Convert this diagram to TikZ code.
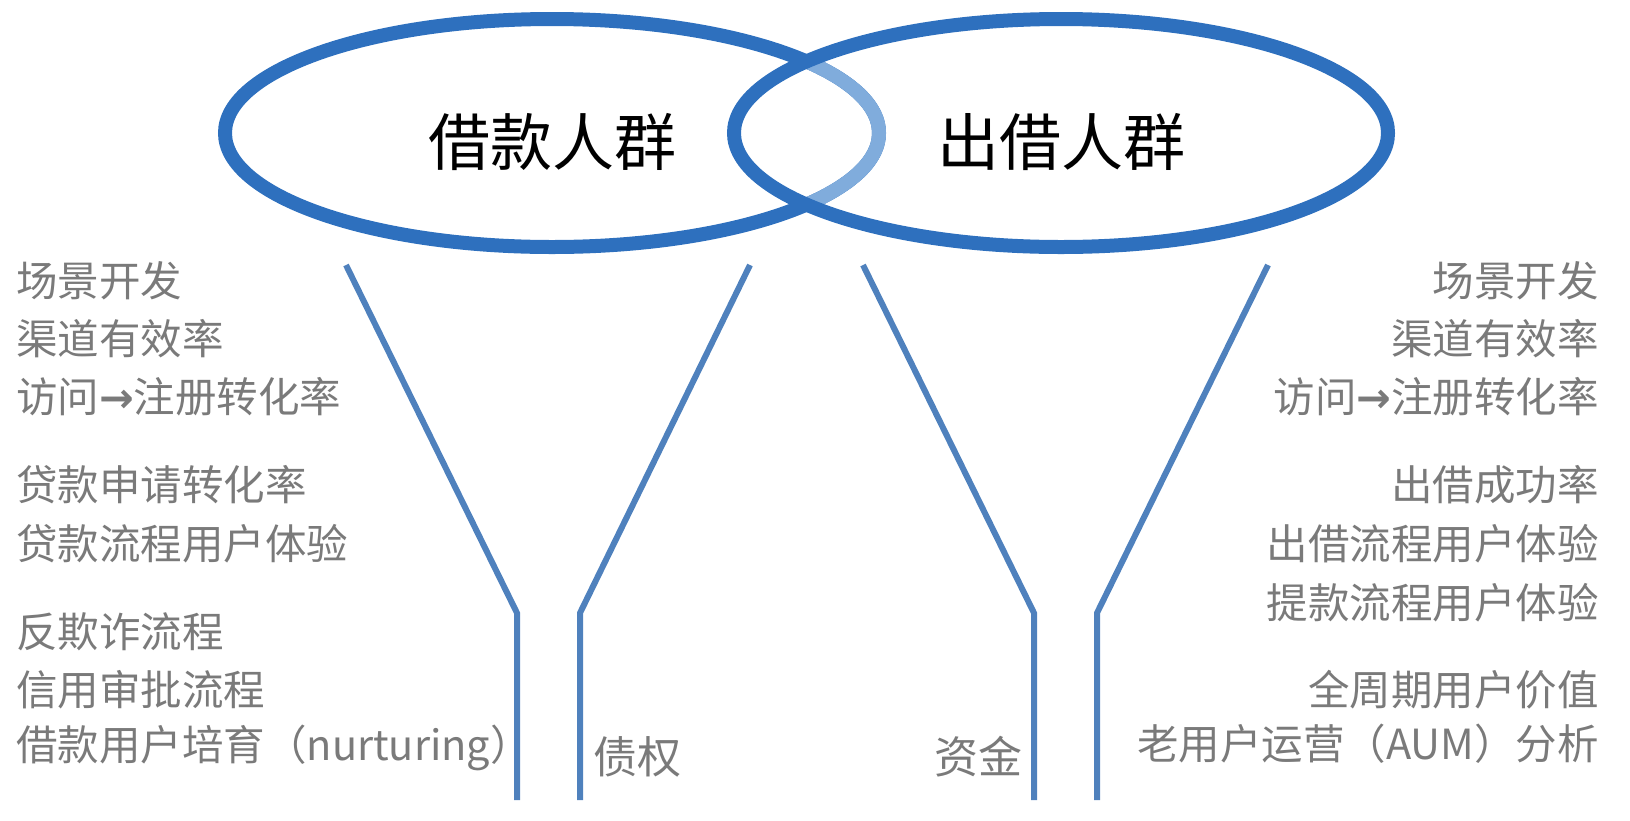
\documentclass[tikz,border=0pt]{standalone}
\usepackage{fontspec}
\newfontfamily\cjk{Noto Sans CJK SC}
\newfontfamily\arr{DejaVu Sans}
\definecolor{ringblue}{RGB}{46,112,190}
\definecolor{lightring}{RGB}{128,172,220}
\definecolor{funnelblue}{RGB}{79,129,189}
\definecolor{labgray}{RGB}{122,122,122}
\tikzset{
  ring/.style={draw=ringblue, line width=14pt},
  funnel/.style={draw=funnelblue, line width=6pt},
  title/.style={inner sep=0pt, font=\cjk\fontsize{62}{62}\selectfont, text=black},
  lab/.style={inner sep=0pt, font=\cjk\fontsize{41.5}{41.5}\selectfont, text=labgray},
  labL/.style={lab, anchor=west},
  labR/.style={lab, anchor=east},
}
\newcommand{\ar}{{\arr\bfseries →}}
\begin{document}
\begin{tikzpicture}[x=1pt,y=-1pt]
\useasboundingbox (0,0) rectangle (1630,820);
% ellipses
\draw[ring] (552,133) ellipse [x radius=327, y radius=114];
\begin{scope}
  \clip (1061,133) ellipse [x radius=327, y radius=114];
  \draw[ring, draw=lightring] (552,133) ellipse [x radius=327, y radius=114];
\end{scope}
\draw[ring] (1061,133) ellipse [x radius=327, y radius=114];
\node[title] (borrow) at (552,142) {借款人群};
\node[title] (lend) at (1061,142) {出借人群};
% funnels
\coordinate (a1) at (346,265); \coordinate (a2) at (517,613); \coordinate (a3) at (517,800);
\coordinate (b1) at (750,265); \coordinate (b2) at (580,613); \coordinate (b3) at (580,800);
\coordinate (c1) at (863,265); \coordinate (c2) at (1034,613); \coordinate (c3) at (1034,800);
\coordinate (d1) at (1268,265); \coordinate (d2) at (1097,613); \coordinate (d3) at (1097,800);
\draw[funnel] (a1) -- (a2) -- (a3);
\draw[funnel] (b1) -- (b2) -- (b3);
\draw[funnel] (c1) -- (c2) -- (c3);
\draw[funnel] (d1) -- (d2) -- (d3);
% left labels
\node[labL] (l1) at (16,281) {场景开发};
\node[labL] (l2) at (16,339) {渠道有效率};
\node[labL] (l3) at (16,397) {访问\ar 注册转化率};
\node[labL] (l4) at (16,485) {贷款申请转化率};
\node[labL] (l5) at (16,544) {贷款流程用户体验};
\node[labL] (l6) at (16,632) {反欺诈流程};
\node[labL] (l7) at (16,690) {信用审批流程};
\node[labL] (l8) at (16,748) {借款用户培育（nurturing）};
% right labels
\node[labR] (r1) at (1599,281) {场景开发};
\node[labR] (r2) at (1599,339) {渠道有效率};
\node[labR] (r3) at (1599,397) {访问\ar 注册转化率};
\node[labR] (r4) at (1599,485) {出借成功率};
\node[labR] (r5) at (1599,544) {出借流程用户体验};
\node[labR] (r6) at (1599,603) {提款流程用户体验};
\node[labR] (r7) at (1599,690) {全周期用户价值};
\node[labR] (r8) at (1599,744) {老用户运营（AUM）分析};
% funnel labels
\node[labL, font=\cjk\fontsize{44}{44}\selectfont] (debt) at (593,757) {债权};
\node[labR, font=\cjk\fontsize{44}{44}\selectfont] (fund) at (1023,757) {资金};
\end{tikzpicture}
\end{document}
